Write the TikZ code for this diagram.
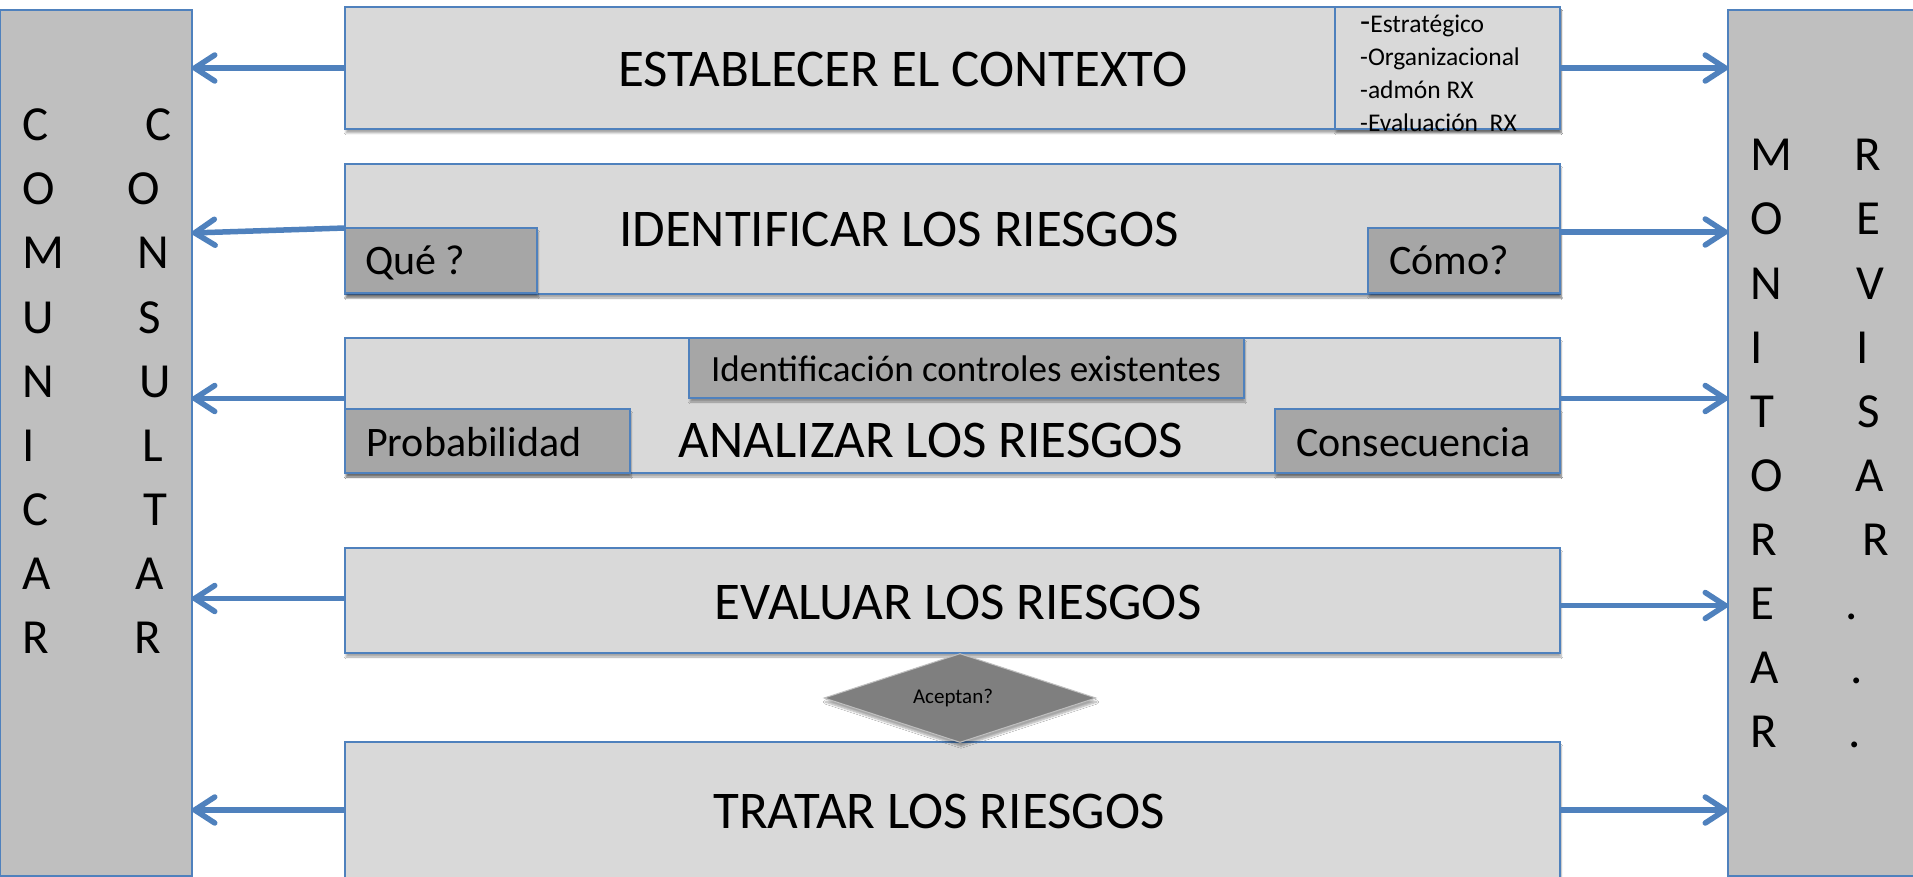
\documentclass[tikz,border=0pt]{standalone}
\usepackage{fontspec}
\setmainfont{Carlito}
\usetikzlibrary{arrows.meta,shadows.blur,shapes.geometric}
\definecolor{bord}{HTML}{4F81BD}
\definecolor{lightg}{HTML}{D9D9D9}
\definecolor{midg}{HTML}{A6A6A6}
\definecolor{sideg}{HTML}{BFBFBF}
\definecolor{diag}{HTML}{7F7F7F}
\begin{document}
\begin{tikzpicture}[x=1pt,y=-1pt,
  boxbase/.style={draw=bord, line width=1.8pt, inner sep=0pt, outer sep=0pt, anchor=north west},
  shad/.style={blur shadow={shadow xshift=1pt, shadow yshift=-4pt, shadow opacity=35, shadow blur steps=6}},
  mainbox/.style={boxbase, fill=lightg, shad},
  subbox/.style={boxbase, fill=midg, shad},
  sidebox/.style={boxbase, fill=sideg},
  bigtxt/.style={font=\fontsize{53}{53}\selectfont, anchor=base, inner sep=0pt},
  midtxt/.style={font=\fontsize{42}{42}\selectfont, anchor=base west, inner sep=0pt},
  smalltxt/.style={font=\fontsize{25.5}{25.5}\selectfont, anchor=base west, inner sep=0pt},
  lettxt/.style={font=\fontsize{49}{49}\selectfont, anchor=base, inner sep=0pt},
  lettxtw/.style={font=\fontsize{49}{49}\selectfont, anchor=base west, inner sep=0pt},
  arr/.style={draw=bord, line width=5.5pt, -{Straight Barb[length=20pt,width=26pt,round]}},
]
\useasboundingbox[fill=white] (0,0) rectangle (1913,877);

% side boxes
\node[sidebox, minimum width=192pt, minimum height=866pt] (com) at (0,10) {};
\node[sidebox, minimum width=200pt, minimum height=866pt] (mon) at (1728,10) {};

% main boxes
\node[mainbox, minimum width=1215pt, minimum height=122pt] (est) at (345,7) {};
\node[mainbox, minimum width=225pt, minimum height=122pt] (estl) at (1335,7) {};
\node[mainbox, minimum width=1215pt, minimum height=130pt] (ide) at (345,164) {};
\node[subbox, minimum width=192pt, minimum height=65pt] (que) at (345,228) {};
\node[subbox, minimum width=192pt, minimum height=65pt] (como) at (1368,228) {};
\node[mainbox, minimum width=1215pt, minimum height=135pt] (ana) at (345,338) {};
\node[subbox, minimum width=555pt, minimum height=60pt] (idc) at (689,338) {};
\node[subbox, minimum width=285pt, minimum height=64pt] (prob) at (345,409) {};
\node[subbox, minimum width=285pt, minimum height=64pt] (cons) at (1275,409) {};
\node[mainbox, minimum width=1215pt, minimum height=105pt] (eva) at (345,548) {};
\node[mainbox, minimum width=1215pt, minimum height=136pt] (tra) at (345,742) {};
\node[diamond, draw=sideg, line width=1pt, fill=diag, minimum width=272pt, minimum height=89pt, inner sep=0pt, shad] (acep) at (960,698) {};

% texts
\node[bigtxt] (t1) at (903,87) {ESTABLECER EL CONTEXTO};
\node[bigtxt] (t2) at (899,247) {IDENTIFICAR LOS RIESGOS};
\node[bigtxt] (t3) at (931,457) {ANALIZAR LOS RIESGOS};
\node[bigtxt] (t4) at (958,619) {EVALUAR LOS RIESGOS};
\node[bigtxt] (t5) at (939,828) {TRATAR LOS RIESGOS};
\node[midtxt] (tq) at (365,275) {Qué ?};
\node[midtxt] (tc) at (1389,275) {Cómo?};
\node[midtxt] (tp) at (366,456) {Probabilidad};
\node[midtxt] (tcs) at (1296,456) {Consecuencia};
\node[font=\fontsize{37}{37}\selectfont, anchor=base, inner sep=0pt] (ti) at (966,381) {Identificación controles existentes};
\node[font=\fontsize{21}{21}\selectfont, inner sep=0pt] (ta) at (953,698) {Aceptan?};
\node[smalltxt] (s1) at (1360,33) {{\fontsize{33}{33}\selectfont -}Estratégico};
\node[smalltxt] (s2) at (1360,66) {-Organizacional};
\node[smalltxt] (s3) at (1360,99) {-admón RX};
\node[smalltxt] (s4) at (1360,132) {-Evaluación~ RX};

% vertical letters, left box
\foreach \L [count=\i from 0] in {C,O,M,U,N,I,C,A,R}
  \node[lettxtw] (cl\i) at (22,141+64*\i) {\L};
\foreach \L/\x [count=\i from 0] in {C/159,O/144,N/153,S/150,U/155,L/153,T/155,A/150,R/148}
  \node[lettxt] (cr\i) at (\x,141+64*\i) {\L};
% vertical letters, right box
\foreach \L [count=\i from 0] in {M,O,N,I,T,O,R,E,A,R}
  \node[lettxtw] (ml\i) at (1750,171+64*\i) {\L};
\foreach \L/\x [count=\i from 0] in {R/1868,E/1868,V/1870,I/1863,S/1869,A/1870,R/1876,./1852,./1857,./1855}
  \node[lettxt] (mr\i) at (\x,171+64*\i) {\L};

% connector anchor points
\coordinate (c2) at (192,233);
\coordinate (ideL) at ([yshift=1pt]ide.west);
\coordinate (ideR) at ([yshift=-3pt]ide.east);
\coordinate (anaL) at ([yshift=7pt]ana.west);
\coordinate (anaR) at ([yshift=7pt]ana.east);
\coordinate (evaL) at ([yshift=2pt]eva.west);
\coordinate (evaR) at ([yshift=-5pt]eva.east);

% connectors
\draw[arr] (est.west) -- (com.east |- est.west);
\draw[arr] (estl.east) -- (mon.west |- estl.east);
\draw[arr] (ideL) -- (c2);
\draw[arr] (ideR) -- (mon.west |- ideR);
\draw[arr] (anaL) -- (com.east |- anaL);
\draw[arr] (anaR) -- (mon.west |- anaR);
\draw[arr] (evaL) -- (com.east |- evaL);
\draw[arr] (evaR) -- (mon.west |- evaR);
\draw[arr] (tra.west) -- (com.east |- tra.west);
\draw[arr] (tra.east) -- (mon.west |- tra.east);
\end{tikzpicture}
\end{document}
